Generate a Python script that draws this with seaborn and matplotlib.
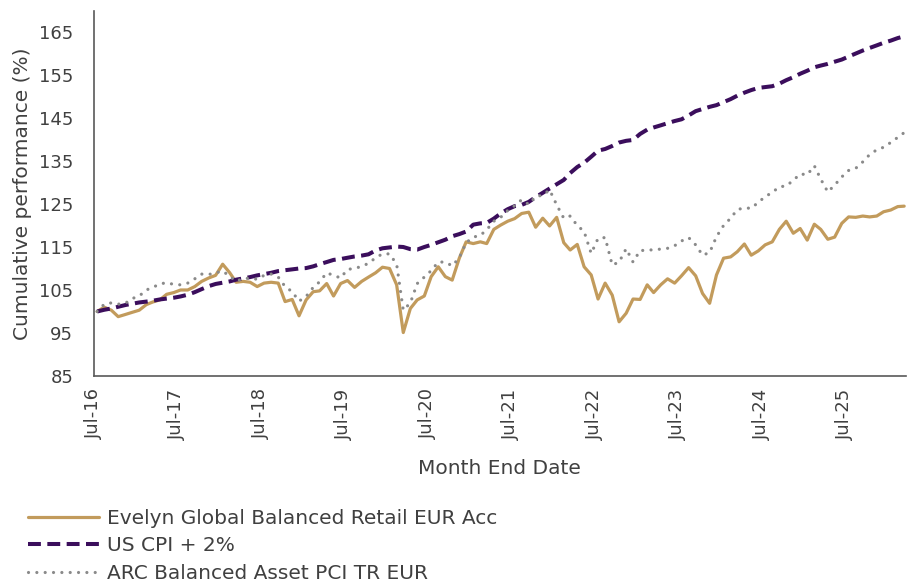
import pandas as pd
import seaborn as sns
import matplotlib.pyplot as plt
import matplotlib.dates as mdates

# monthly cumulative performance, Jul-16 .. Mar-26 (rebased to 100)
fund = [100.0, 101.0, 100.3, 98.8, 99.3, 99.8, 100.3, 101.6, 102.2, 102.7, 104.0, 104.4,
        105.0, 105.0, 105.8, 107.0, 107.8, 108.4, 111.0, 109.0, 106.8, 107.0, 106.8, 105.8,
        106.6, 106.8, 106.6, 102.3, 102.8, 99.0, 102.7, 104.6, 104.8, 106.5, 103.6, 106.5,
        107.2, 105.6, 107.0, 108.0, 109.0, 110.3, 110.0, 106.2, 95.1, 100.7, 102.7, 103.6,
        108.1, 110.4, 108.1, 107.3, 112.4, 116.2, 115.8, 116.2, 115.8, 119.1, 120.1, 121.0,
        121.6, 122.8, 123.1, 119.6, 121.7, 119.9, 121.9, 116.0, 114.3, 115.6, 110.4, 108.5,
        102.9, 106.6, 103.8, 97.6, 99.6, 102.9, 102.8, 106.2, 104.4, 106.2, 107.6, 106.6,
        108.3, 110.2, 108.3, 104.2, 101.9, 108.5, 112.4, 112.7, 113.9, 115.7, 113.1, 114.1,
        115.5, 116.2, 119.1, 121.0, 118.2, 119.3, 116.6, 120.3, 119.1, 116.8, 117.3, 120.5,
        122.0, 121.9, 122.2, 122.0, 122.2, 123.2, 123.6, 124.4, 124.5]

cpi = [100.0, 100.4, 100.7, 101.1, 101.5, 101.8, 102.1, 102.3, 102.5, 102.8, 103.0, 103.2,
       103.5, 103.9, 104.5, 105.2, 105.9, 106.4, 106.7, 107.0, 107.4, 107.7, 108.0, 108.4,
       108.7, 109.0, 109.4, 109.6, 109.8, 110.0, 110.1, 110.5, 111.0, 111.5, 112.0, 112.2,
       112.5, 112.8, 113.0, 113.3, 114.2, 114.7, 114.9, 115.1, 115.0, 114.5, 114.4, 115.0,
       115.5, 116.1, 116.7, 117.5, 118.0, 118.6, 120.2, 120.5, 120.6, 121.6, 122.8, 123.8,
       124.5, 124.8, 125.5, 126.6, 127.6, 128.6, 129.6, 130.6, 132.2, 133.6, 134.6, 136.0,
       137.4, 137.8, 138.5, 139.3, 139.7, 139.9, 141.3, 142.3, 142.8, 143.3, 143.8, 144.3,
       144.7, 145.6, 146.6, 147.1, 147.6, 148.0, 148.7, 149.4, 150.2, 150.9, 151.5, 152.0,
       152.2, 152.4, 153.0, 153.8, 154.5, 155.3, 156.0, 156.8, 157.2, 157.6, 158.1, 158.6,
       159.3, 160.0, 160.7, 161.3, 161.9, 162.5, 163.0, 163.6, 164.0]

arc = [100.0, 101.7, 102.0, 101.7, 101.9, 103.0, 103.6, 105.0, 105.6, 106.4, 106.7, 106.3,
       106.2, 106.6, 107.6, 108.7, 108.6, 109.0, 109.4, 108.2, 107.0, 107.7, 107.7, 107.5,
       108.4, 108.7, 108.0, 105.8, 104.6, 102.4, 103.5, 105.6, 106.9, 109.0, 108.4, 107.8,
       109.8, 110.0, 110.5, 111.2, 112.5, 113.4, 113.4, 111.0, 100.3, 102.0, 106.5, 108.0,
       109.5, 111.5, 111.5, 110.6, 112.5, 116.0, 117.3, 117.7, 119.0, 121.0, 121.9, 123.5,
       124.6, 126.0, 124.9, 126.8, 127.0, 128.3, 124.8, 121.7, 122.2, 120.0, 118.6, 113.5,
       117.0, 117.2, 110.8, 111.5, 114.6, 111.5, 114.2, 114.2, 114.4, 114.5, 114.7, 115.3,
       116.4, 117.2, 115.5, 113.1, 113.7, 117.4, 120.0, 121.7, 123.7, 124.1, 124.0, 125.4,
       126.7, 127.7, 129.0, 129.2, 130.5, 132.0, 131.8, 133.9, 130.8, 127.8, 129.4, 131.3,
       132.8, 133.3, 134.8, 136.5, 137.6, 138.2, 139.3, 140.5, 141.6]

labels = ['Evelyn Global Balanced Retail EUR Acc', 'US CPI + 2%', 'ARC Balanced Asset PCI TR EUR']
dates = pd.date_range('2016-07-01', periods=len(fund), freq='MS') + pd.Timedelta(days=14)

sns.set_style('white')
plt.rcParams['font.family'] = ['DejaVu Sans']
text_col = '#404040'

fig = plt.figure(figsize=(9.14, 5.86), dpi=100)
ax = fig.add_axes([0.1028, 0.3584, 0.8882, 0.6236])

sns.lineplot(x=dates, y=fund, ax=ax, color='#C29B5C', linewidth=2.3, label=labels[0])
sns.lineplot(x=dates, y=cpi, ax=ax, color='#3B0E5C', linewidth=2.9,
             linestyle=(0, (3.2, 1.6)), label=labels[1])
sns.lineplot(x=dates, y=arc, ax=ax, color='#8A8A8A', linewidth=2.3,
             linestyle=(0, (0.01, 2.6)), dash_capstyle='round', label=labels[2])

ax.set_ylim(85, 170)
ax.set_yticks(range(85, 166, 10))
ax.set_xlim(pd.Timestamp('2016-07-01'), pd.Timestamp('2026-03-22'))
ax.xaxis.set_major_locator(mdates.MonthLocator(bymonth=7))
ax.xaxis.set_major_formatter(mdates.DateFormatter('%b-%y'))
plt.setp(ax.get_xticklabels(), rotation=90)

for s in ['top', 'right']:
    ax.spines[s].set_visible(False)
for s in ['left', 'bottom']:
    ax.spines[s].set_color('#595959')
    ax.spines[s].set_linewidth(1.2)
ax.tick_params(axis='both', direction='out', length=5, width=1.1, color='#595959',
               labelsize=13, labelcolor=text_col)
ax.tick_params(axis='y', pad=10)
ax.tick_params(axis='x', pad=4)

ax.set_xlabel('Month End Date', fontsize=14.5, color=text_col, labelpad=14)
ax.set_ylabel('Cumulative performance (%)', fontsize=14.5, color=text_col, labelpad=5)

handles, labs = ax.get_legend_handles_labels()
ax.get_legend().remove()
fig.legend(handles, labs, loc='upper left', bbox_to_anchor=(0.031, 0.132),
           frameon=False, fontsize=14.5, handlelength=3.5, handletextpad=0.4,
           labelspacing=0.42, borderpad=0, borderaxespad=0, labelcolor=text_col)

fig.savefig('out.png', dpi=100)
